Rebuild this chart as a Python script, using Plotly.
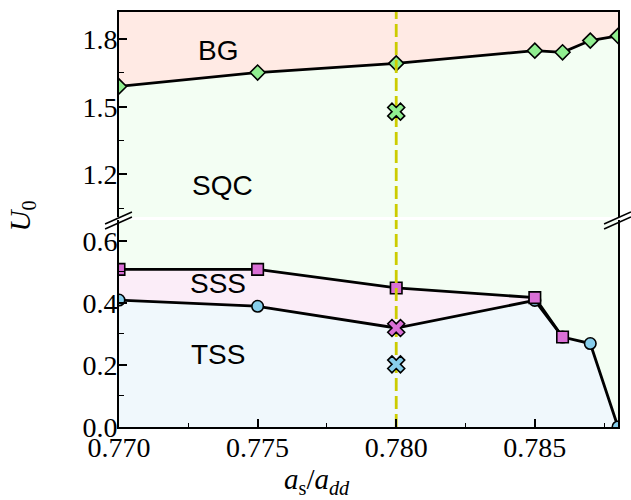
import plotly.graph_objects as go

# ---------------- data ----------------
x_bg = [0.770, 0.775, 0.780, 0.785, 0.786, 0.787, 0.788]
u_bg = [1.590, 1.652, 1.693, 1.749, 1.742, 1.794, 1.815]

x_sss = [0.770, 0.775, 0.780, 0.785, 0.786]
u_sss = [0.508, 0.508, 0.448, 0.417, 0.290]

x_tss = [0.770, 0.775, 0.780, 0.785, 0.786, 0.787, 0.788]
u_tss = [0.409, 0.389, 0.319, 0.408, 0.290, 0.269, 0.000]

x_cut = 0.780
u_cross_sqc = 1.478
u_cross_sss = 0.319
u_cross_tss = 0.202

phase_labels = ["BG", "SQC", "SSS", "TSS"]

x_range = [0.770, 0.788]
top_range = [1.010, 1.921]
bot_range = [0.0, 0.667]

# ---------------- colours ----------------
C_BG = "#FFEAE4"
C_SQC = "#F3FEF3"
C_SSS = "#FBEDF8"
C_TSS = "#F0F8FC"
C_DIAM = "#90EE90"
C_SQ = "#DA70D6"
C_CIRC = "#87CEEB"
C_CUT = "#CCCC00"

LW = 2.8
serif = "Liberation Serif"

fig = go.Figure()

# ---- top panel (x, y) ----
fig.add_trace(go.Scatter(x=x_bg, y=u_bg, mode="none", fill="tozeroy",
                         fillcolor=C_SQC, xaxis="x", yaxis="y", hoverinfo="skip"))
fig.add_trace(go.Scatter(x=x_bg, y=u_bg, mode="lines+markers",
                         line=dict(color="black", width=LW),
                         marker=dict(symbol="diamond", size=11.5, color=C_DIAM,
                                     line=dict(color="black", width=1.6)),
                         xaxis="x", yaxis="y"))

# ---- bottom panel fills (x2, y2) ----
fig.add_trace(go.Scatter(x=x_sss, y=u_sss, mode="none", fill="tozeroy",
                         fillcolor=C_SSS, xaxis="x2", yaxis="y2", hoverinfo="skip"))
fig.add_trace(go.Scatter(x=x_tss, y=u_tss, mode="none", fill="tozeroy",
                         fillcolor=C_TSS, xaxis="x2", yaxis="y2", hoverinfo="skip"))

# TSS line + circles (circles everywhere except the cut point, marked by a cross)
fig.add_trace(go.Scatter(x=x_tss, y=u_tss, mode="lines",
                         line=dict(color="black", width=LW),
                         xaxis="x2", yaxis="y2"))
circ = [(x, u) for x, u in zip(x_tss, u_tss) if x != x_cut]
fig.add_trace(go.Scatter(x=[c[0] for c in circ], y=[c[1] for c in circ], mode="markers",
                         marker=dict(symbol="circle", size=11.5, color=C_CIRC,
                                     line=dict(color="black", width=1.6)),
                         xaxis="x2", yaxis="y2"))
# SSS line + squares
fig.add_trace(go.Scatter(x=x_sss, y=u_sss, mode="lines+markers",
                         line=dict(color="black", width=LW),
                         marker=dict(symbol="square", size=11.5, color=C_SQ,
                                     line=dict(color="black", width=1.6)),
                         xaxis="x2", yaxis="y2"))

# ---- vertical dashed cut line in both panels ----
for xa, ya, rng in (("x", "y", top_range), ("x2", "y2", bot_range)):
    fig.add_trace(go.Scatter(x=[x_cut, x_cut], y=rng, mode="lines",
                             line=dict(color=C_CUT, width=2.8, dash="13px,5px"),
                             xaxis=xa, yaxis=ya, hoverinfo="skip"))

# ---- crosses on the cut ----
cross_line = dict(color="black", width=1.6)
fig.add_trace(go.Scatter(x=[x_cut], y=[u_cross_sqc], mode="markers",
                         marker=dict(symbol="x", size=15, color=C_DIAM, line=cross_line),
                         xaxis="x", yaxis="y"))
fig.add_trace(go.Scatter(x=[x_cut, x_cut], y=[u_cross_sss, u_cross_tss], mode="markers",
                         marker=dict(symbol="x", size=15, color=[C_SQ, C_CIRC], line=cross_line),
                         xaxis="x2", yaxis="y2"))

# ---- layout ----
L, R, T, B = 119, 11, 12, 73
W, H = 631, 500
pw, ph = W - L - R, H - T - B
top_dom = [(H - B - 217) / ph, 1.0]
bot_dom = [0.0, (H - B - 220) / ph]

tickfont = dict(family=serif, size=28, color="black")

fig.update_layout(
    width=W, height=H,
    margin=dict(l=L, r=R, t=T, b=B),
    paper_bgcolor="white", plot_bgcolor=C_SQC,
    font=dict(family=serif, size=28, color="black"),
    showlegend=False,
    xaxis=dict(domain=[0, 1], range=x_range, anchor="y", side="top",
               showline=True, linecolor="black", linewidth=2, mirror=False,
               showticklabels=False, ticks="", showgrid=False, zeroline=False),
    yaxis=dict(domain=top_dom, range=top_range, anchor="x",
               showline=True, linecolor="black", linewidth=2, mirror=True,
               ticks="inside", ticklen=8, tickwidth=1.6, tickcolor="black",
               tick0=1.2, dtick=0.3, tickformat=".1f", tickfont=tickfont,
               ticklabelstandoff=-6,
               minor=dict(ticks="inside", ticklen=4.5, tickwidth=1.4, tickcolor="black",
                          tick0=1.05, dtick=0.3, showgrid=False),
               showgrid=False, zeroline=False),
    xaxis2=dict(domain=[0, 1], range=x_range, anchor="y2", side="bottom",
                showline=True, linecolor="black", linewidth=2, mirror=False,
                ticks="inside", ticklen=8, tickwidth=1.6, tickcolor="black",
                tick0=0.770, dtick=0.005, tickformat=".3f", tickfont=tickfont,
                ticklabelstandoff=-6,
                minor=dict(ticks="inside", ticklen=4.5, tickwidth=1.4, tickcolor="black",
                           tick0=0.7725, dtick=0.005, showgrid=False),
                showgrid=False, zeroline=False),
    yaxis2=dict(domain=bot_dom, range=bot_range, anchor="x2",
                showline=True, linecolor="black", linewidth=2, mirror=True,
                ticks="inside", ticklen=8, tickwidth=1.6, tickcolor="black",
                tick0=0.0, dtick=0.2, tickformat=".1f", tickfont=tickfont,
                ticklabelstandoff=-6,
                minor=dict(ticks="inside", ticklen=4.5, tickwidth=1.4, tickcolor="black",
                           tick0=0.1, dtick=0.2, showgrid=False),
                showgrid=False, zeroline=False),
)

# BG region background in the top panel
fig.add_shape(type="rect", xref="x domain", yref="y domain", x0=0, x1=1, y0=0, y1=1,
              fillcolor=C_BG, line=dict(width=0), layer="below")

# axis-break marks (pixel positions converted to paper coords)
def px(xp, yp):
    return (xp - L) / pw, (H - B - yp) / ph

for x0p in (L, L + pw):
    for dy in (0, 5):
        a = px(x0p - 14, 224 + dy)
        b = px(x0p + 13, 212 + dy)
        fig.add_shape(type="line", xref="paper", yref="paper",
                      x0=a[0], y0=a[1], x1=b[0], y1=b[1],
                      line=dict(color="black", width=1.6), layer="above")

# phase labels
lab_font = dict(family="Liberation Sans", size=28, color="black")
for txt, xa, ya, xv, yv in zip(phase_labels, ["x", "x", "x2", "x2"], ["y", "y", "y2", "y2"],
                               [0.77357, 0.77372, 0.77357, 0.77357],
                               [1.748, 1.148, 0.4635, 0.2345]):
    fig.add_annotation(text=txt, x=xv, y=yv, xref=xa, yref=ya, showarrow=False,
                       font=lab_font, xanchor="center", yanchor="middle")

# axis titles
tfont = dict(family=serif, size=29, color="black")
fig.add_annotation(text="<i>a</i><sub>s</sub>/<i>a</i><sub><i>dd</i></sub>",
                   x=(318 - L) / pw, y=(H - B - 481) / ph, xref="paper", yref="paper",
                   showarrow=False, font=tfont, xanchor="center", yanchor="middle")
fig.add_annotation(text="<i>U</i><sub>0</sub>", textangle=-90,
                   x=(22 - L) / pw, y=(H - B - 216) / ph, xref="paper", yref="paper",
                   showarrow=False, font=tfont, xanchor="center", yanchor="middle")

fig.write_html("out.html")
